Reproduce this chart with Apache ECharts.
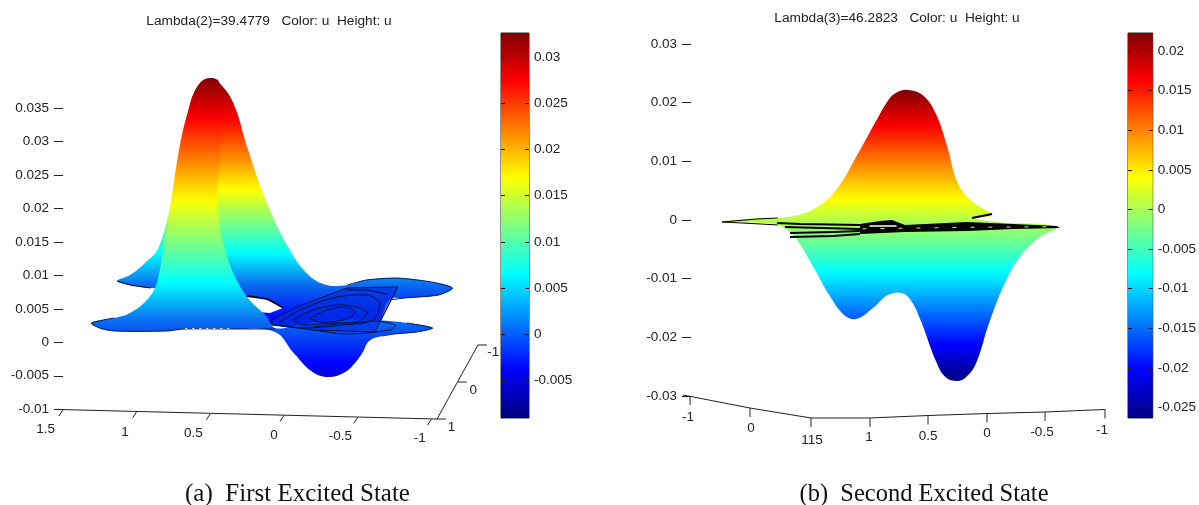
<!DOCTYPE html>
<html>
<head>
<meta charset="utf-8">
<title>Excited states</title>
<script src="https://cdn.jsdelivr.net/npm/echarts@6/dist/echarts.min.js"></script>
<style>
html, body { margin: 0; padding: 0; background: #fff; }
#chart { width: 1199px; height: 505px; }
</style>
</head>
<body>
<div id="chart"></div>
<script>
// panel (a): [projected x, u]
const backSurfaceA = [[1.126,.00916],[1.038,.01006],[.936,.01186],[.841,.01425],[.739,.02277],[.638,.03473],[.57,.03847],[.492,.03951],[.427,.03877],[.332,.03578],[.231,.02875],[.102,.02083],[-.054,.0138],[-.183,.01006],[-.305,.00857],[-.448,.00857],[-.577,.00931],[-.787,.00961],[-1.024,.00901],[-1.167,.00812],[-1.072,.00707],[-.841,.00662],[-.733,.00632],[-.638,.00259],[.081,.00259],[.298,.00483],[.57,.00782],[.895,.00812],[1.038,.00857]];
const frontSurfaceA = [[1.303,.00289],[1.146,.00363],[1.038,.00438],[.923,.00632],[.855,.00887],[.794,.01634],[.753,.02172],[.699,.0292],[.638,.03473],[.57,.03847],[.492,.03951],[.427,.03877],[.421,.02875],[.441,.02127],[.387,.0138],[.258,.00737],[.102,.00378],[.047,.00214],[-.109,.00259],[-.38,.00333],[-.631,.00333],[-.855,.00289],[-1.031,.00214],[-.923,.00154],[-.767,.00124],[-.685,.00094],[-.597,.00019],[-.55,-.0016],[-.482,-.00354],[-.421,-.00459],[-.319,-.00519],[-.21,-.00444],[-.081,-.0016],[.047,.00154],[.312,.00199],[.672,.00199],[.78,.00169],[1.146,.00169],[1.248,.00214]];
const holeA = [[.251,.00677],[.115,.00632],[.007,.00513],[.095,.00438],[.183,.00453]];
const contourBoxA = [[.081,.00333],[-.088,.00528],[-.427,.00812],[-.773,.00827],[-.617,.00154],[-.197,.00184],[.081,.00259],[.081,.00333]];
const contourOuterA = [[.027,.00308],[-.109,.00483],[-.332,.00662],[-.563,.00707],[-.651,.00588],[-.604,.00333],[-.4,.00259],[-.156,.00214],[.027,.00259],[.027,.00308]];
const contourMiddleA = [[-.061,.00333],[-.197,.00483],[-.36,.00558],[-.495,.00528],[-.563,.00438],[-.495,.00303],[-.312,.00289],[-.129,.00259],[-.061,.00333]];
const contourInnerA = [[-.176,.00363],[-.292,.00483],[-.427,.00528],[-.482,.00438],[-.4,.00333],[-.244,.00303],[-.176,.00363]];
const contourBladeA = [[-.197,.00229],[-.604,.00318],[-.753,.00259],[-.719,.00184],[-.427,.00124],[-.197,.00184]];
const contourTopA = [[-.427,.00782],[-.563,.00782],[-.699,.00722]];
const edgeFrontA = [[1.146,.00363],[1.303,.00289],[1.248,.00214],[1.146,.00169],[.78,.00169],[.672,.00199],[.312,.00199],[.047,.00199]];
const edgeBackLeftA = [[1.126,.00916],[1.038,.00857],[.895,.00812]];
const edgeHoleA = [[.251,.00692],[.115,.00647],[.007,.00513]];
const edgeRightBackA = [[-.448,.00857],[-.577,.00931],[-.787,.00961],[-1.024,.00901],[-1.167,.00812],[-1.072,.00707],[-.841,.00662],[-.733,.00632]];
const edgeRightFrontA = [[-.855,.00289],[-1.031,.00214],[-.923,.00154],[-.767,.00124],[-.685,.00094]];
const specksFrontA = [[.66,.00206],[.36,.00206]];
const axisLineA = [[1.554,-.01003],[-1.038,-.01147],[-1.316,-.0004]];
const xTicksA = [[1.5,-.01012],[1,-.01039],[.5,-.01067],[0,-.01094],[-.5,-.01122],[-1,-.0115]];
const depthTicksA = [[-1.316,-.0004],[-1.18,-.00594],[-1.038,-.01147]];
const axisLabelsA = [[1.615,-.01296,'1.5'],[1.072,-.01341,'1'],[.604,-.01356,'0.5'],[.054,-.01386,'0'],[-.4,-.01401,'-0.5'],[-.943,-.01431,'-1'],[-1.16,-.01266,'1'],[-1.309,-.00712,'0'],[-1.445,-.00145,'-1']];
const yTicksA = [-.01,-.005,0,.005,.01,.015,.02,.025,.03,.035];
const barTicksA = [-.005,0,.005,.01,.015,.02,.025,.03];
const barRangeA = [-.00907,.0326];

// panel (b)
const surfaceB = [[2.247,-.00034],[1.949,.00034],[1.77,.00034],[1.591,.00085],[1.43,.00221],[1.268,.00511],[1.064,.01193],[.936,.01652],[.808,.02078],[.74,.02181],[.655,.02215],[.528,.0213],[.417,.01823],[.315,.01244],[.23,.00647],[.119,.00341],[-.06,.00085],[.085,.00034],[-.111,-.00034],[-.621,-.00119],[-.468,-.00307],[-.306,-.0063],[-.179,-.01073],[-.043,-.01755],[.068,-.02436],[.153,-.02675],[.23,-.02743],[.332,-.02675],[.417,-.02385],[.545,-.01704],[.63,-.01363],[.706,-.01244],[.825,-.01278],[.953,-.01499],[1.098,-.01687],[1.2,-.01619],[1.328,-.01278],[1.464,-.00801],[1.591,-.00375],[1.659,-.00221],[1.77,-.00085],[1.915,-.00051]];
const bandB = [[1.081,-.00068],[.911,-.00017],[.808,0],[.698,-.00085],[.17,-.00034],[-.221,-.00068],[-.596,-.00102],[-.621,-.00136],[-.221,-.00153],[.17,-.00187],[.698,-.00204],[1.081,-.00239]];
const bandLeftTopB = [[1.787,-.00051],[1.591,-.00068],[1.081,-.00085]];
const bandLeftMidB = [[1.72,-.00119],[1.4,-.00136],[1.081,-.00153]];
const bandLeftLowB = [[1.676,-.00221],[1.311,-.00204],[1.081,-.00187]];
const bandLeftBottomB = [[1.676,-.0029],[1.311,-.00273],[1.081,-.00239]];
const bladeTopB = [[2.247,-.00034],[1.949,.00017],[1.77,.00034]];
const bladeLowB = [[2.247,-.00034],[1.915,-.00068],[1.77,-.00085]];
const stubB = [[.128,.00034],[-.043,.00102]];
const specksB = [[1.06,-.0015],[.2,-.00125],[-.55,-.00115]];
const slitB = [[1.0,-.00102],[.77,-.00102]];
const axisLineB = [[2.587,-.02981],[2.017,-.03203],[1.498,-.03373],[.996,-.03373],[.502,-.03331],[0,-.03297],[-.494,-.03271],[-1.004,-.03228]];
const xTicksB = [[2.527,-.03],[2.017,-.03203],[1.498,-.03373],[.996,-.03373],[.502,-.03331],[0,-.03297],[-.494,-.03271],[-1.004,-.03228]];
const axisLabelsB = [[2.545,-.03356,'-1'],[2.008,-.03544,'0'],[1.489,-.03748,'115'],[1.004,-.03697,'1'],[.502,-.0368,'0.5'],[0,-.03629,'0'],[-.468,-.03612,'-0.5'],[-.979,-.03578,'-1']];
const yTicksB = [-.03,-.02,-.01,0,.01,.02,.03];
const barTicksB = [-.025,-.02,-.015,-.01,-.005,0,.005,.01,.015,.02];
const barRangeB = [-.02633,.02229];

const titles = ['Lambda(2)=39.4779   Color: u  Height: u', 'Lambda(3)=46.2823   Color: u  Height: u'];
const captions = ['(a)  First Excited State', '(b)  Second Excited State'];

const jetStops = [
    { offset: 0, color: '#800000' },
    { offset: 0.125, color: '#ff0000' },
    { offset: 0.375, color: '#ffff00' },
    { offset: 0.625, color: '#00ffff' },
    { offset: 0.875, color: '#0000ff' },
    { offset: 1, color: '#000080' }
];
// the two sheets of panel (a) share their reds but part ways lower down
const frontStopsA = [
    { offset: 0, color: '#800000' },
    { offset: 0.125, color: '#ff0000' },
    { offset: 0.375, color: '#ffff00' },
    { offset: 0.625, color: '#00ffff' },
    { offset: 0.74, color: '#0a70f0' },
    { offset: 0.875, color: '#0000ff' },
    { offset: 1, color: '#000080' }
];
const backStopsA = [
    { offset: 0, color: '#800000' },
    { offset: 0.149, color: '#ff0000' },
    { offset: 0.406, color: '#ffff00' },
    { offset: 0.634, color: '#00ffff' },
    { offset: 0.75, color: '#0a6cf0' },
    { offset: 0.877, color: '#0000ff' },
    { offset: 1, color: '#000080' }
];
const axisColor = '#222';
const contourColor = '#050f40';
const sansFont = '"Liberation Sans", Arial, sans-serif';
const tickFontSize = 13.5;

// surface polygon, coloured by height in screen space
function surfaceSeries(points, xIdx, yIdx, topU, bottomU, stops, z) {
    return {
        type: 'custom', xAxisIndex: xIdx, yAxisIndex: yIdx, z: z, data: points, encode: { x: 0, y: 1 },
        renderItem(params, api) {
            if (params.dataIndex !== 0) return null;
            const y0 = api.coord([0, topU])[1];
            const y1 = api.coord([0, bottomU])[1];
            return {
                type: 'polygon',
                shape: { points: points.map(p => api.coord(p)), smooth: 0.4 },
                style: { fill: new echarts.graphic.LinearGradient(0, y0, 0, y1, stops, true) }
            };
        }
    };
}

function fillSeries(points, xIdx, yIdx, fill, z) {
    return {
        type: 'custom', xAxisIndex: xIdx, yAxisIndex: yIdx, z: z, data: points, encode: { x: 0, y: 1 },
        renderItem(params, api) {
            if (params.dataIndex !== 0) return null;
            return { type: 'polygon', shape: { points: points.map(p => api.coord(p)) }, style: { fill: fill } };
        }
    };
}

function pathSeries(points, xIdx, yIdx, color, width, z, smooth, dash) {
    return {
        type: 'custom', xAxisIndex: xIdx, yAxisIndex: yIdx, z: z, data: points, encode: { x: 0, y: 1 },
        renderItem(params, api) {
            if (params.dataIndex !== 0) return null;
            return {
                type: 'polyline',
                shape: { points: points.map(p => api.coord(p)), smooth: smooth || 0 },
                style: { stroke: color, lineWidth: width, fill: 'none', lineDash: dash || null }
            };
        }
    };
}

// short marks hanging off a projected axis
function tickSeries(ticks, idx, dx, du, z) {
    return {
        type: 'custom', xAxisIndex: idx, yAxisIndex: idx, z: z, data: ticks, encode: { x: 0, y: 1 },
        renderItem(params, api) {
            const a = api.coord([api.value(0), api.value(1)]);
            const b = api.coord([api.value(0) + dx, api.value(1) + du]);
            return {
                type: 'line',
                shape: { x1: a[0], y1: a[1], x2: b[0], y2: b[1] },
                style: { stroke: axisColor, lineWidth: 1 }
            };
        }
    };
}

function labelSeries(labels, xIdx, yIdx, z) {
    return {
        type: 'custom', xAxisIndex: xIdx, yAxisIndex: yIdx, z: z, data: labels, encode: { x: 0, y: 1 },
        renderItem(params, api) {
            const p = api.coord([api.value(0), api.value(1)]);
            return {
                type: 'text',
                style: {
                    x: p[0], y: p[1], text: labels[params.dataIndex][2],
                    align: 'center', verticalAlign: 'middle',
                    font: tickFontSize + 'px ' + sansFont, fill: axisColor
                }
            };
        }
    };
}

function barSeries(range, idx) {
    return {
        type: 'custom', xAxisIndex: idx, yAxisIndex: idx, z: 6, data: [[0, range[1]], [1, range[0]]], encode: { x: 0, y: 1 },
        renderItem(params, api) {
            if (params.dataIndex !== 0) return null;
            const a = api.coord([0, range[1]]);
            const b = api.coord([1, range[0]]);
            return {
                type: 'rect',
                shape: { x: a[0], y: a[1], width: b[0] - a[0], height: b[1] - a[1] },
                style: { fill: new echarts.graphic.LinearGradient(0, a[1], 0, b[1], jetStops, true) }
            };
        }
    };
}

function panelX(min, max, gridIndex, position) {
    return { type: 'value', gridIndex: gridIndex, min: min, max: max, inverse: true, show: false, position: position };
}

function panelY(min, max, ticks, offset, gridIndex) {
    return {
        type: 'value', gridIndex: gridIndex, min: min, max: max, offset: offset, position: 'left',
        splitLine: { show: false },
        axisLine: { show: false, onZero: false },
        axisTick: { show: true, length: 9, customValues: ticks, lineStyle: { color: axisColor } },
        axisLabel: {
            margin: 14, customValues: ticks, fontFamily: sansFont, fontSize: tickFontSize, color: axisColor,
            padding: [0, 0, 4, 0],
            formatter: v => String(+v.toFixed(3))
        }
    };
}

function barY(range, ticks, position, gridIndex, showLabels) {
    return {
        type: 'value', gridIndex: gridIndex, min: range[0], max: range[1], position: position, z: 8,
        splitLine: { show: false },
        axisLine: { show: false, onZero: false },
        axisTick: { show: true, inside: true, length: 4, customValues: ticks, lineStyle: { color: '#331111' } },
        axisLabel: {
            show: showLabels, margin: 5, customValues: ticks, fontFamily: sansFont, fontSize: tickFontSize, color: axisColor,
            padding: [0, 0, 3, 0],
            formatter: v => String(+v.toFixed(3))
        }
    };
}

const option = {
    animation: false,
    backgroundColor: '#fff',
    title: [
        { text: titles[0], left: 264, top: 9, textAlign: 'center', textStyle: { fontFamily: sansFont, fontSize: 13.7, fontWeight: 'normal', color: axisColor } },
        { text: titles[1], left: 892, top: 6, textAlign: 'center', textStyle: { fontFamily: sansFont, fontSize: 13.7, fontWeight: 'normal', color: axisColor } },
        { text: captions[0], left: 292.5, top: 477, textAlign: 'center', textStyle: { fontFamily: '"Liberation Serif", serif', fontSize: 25, fontWeight: 'normal', color: '#111' } },
        { text: captions[1], left: 919, top: 477, textAlign: 'center', textStyle: { fontFamily: '"Liberation Serif", serif', fontSize: 24.5, fontWeight: 'normal', color: '#111' } }
    ],
    grid: [
        { left: 33.42, top: 74.7, width: 471.68, height: 401.4 },
        { left: 501, top: 33, width: 28, height: 385, show: true, borderColor: '#222', borderWidth: 1 },
        { left: 634.5, top: 14.55, width: 499.4, height: 440.25 },
        { left: 1128, top: 33, width: 29, height: 385, show: true, borderColor: '#222', borderWidth: 1 }
    ],
    xAxis: [
        panelX(-1.5, 1.7, 0, 'bottom'),
        { type: 'value', gridIndex: 1, min: 0, max: 1, show: false },
        panelX(-1.25, 3, 2, 'bottom'),
        { type: 'value', gridIndex: 3, min: 0, max: 1, show: false },
        panelX(-1.5262, 1.6982, 0, 'top'),
        panelX(-1.285, 2.998, 2, 'top')
    ],
    yAxis: [
        panelY(-.02, .04, yTicksA, -29.58, 0),
        barY(barRangeA, barTicksA, 'right', 1, true),
        panelY(-.04, .035, yTicksB, -56.5, 2),
        barY(barRangeB, barTicksB, 'right', 3, true),
        barY(barRangeA, barTicksA, 'left', 1, false),
        barY(barRangeB, barTicksB, 'left', 3, false)
    ],
    series: [
        surfaceSeries(backSurfaceA, 4, 0, .03951, -.00175, backStopsA, 2),
        fillSeries(holeA, 0, 0, '#fff', 2.1),
        pathSeries(edgeHoleA, 0, 0, '#000', 1.5, 2.2, 0.2),
        pathSeries(edgeBackLeftA, 4, 0, '#000', 1, 2.2, 0.2),
        pathSeries(edgeRightBackA, 4, 0, '#001a66', 1, 2.2, 0.2),
        surfaceSeries(frontSurfaceA, 4, 0, .03951, -.00937, frontStopsA, 3),
        pathSeries(edgeFrontA, 4, 0, '#001a55', 1, 3.1, 0.2),
        pathSeries(edgeRightFrontA, 4, 0, '#001a66', 1, 3.1, 0.2),
        pathSeries(specksFrontA, 4, 0, '#fff', 1, 3.15, 0, [2, 5]),
        fillSeries(contourBoxA, 0, 0, 'rgba(0,50,225,0.75)', 3.2),
        pathSeries(contourBoxA, 0, 0, contourColor, 1, 3.3),
        pathSeries(contourOuterA, 0, 0, contourColor, 1, 3.3, 0.3),
        pathSeries(contourMiddleA, 0, 0, contourColor, 1, 3.3, 0.3),
        pathSeries(contourInnerA, 0, 0, contourColor, 1, 3.3, 0.3),
        pathSeries(contourBladeA, 0, 0, contourColor, 1, 3.3, 0.3),
        pathSeries(contourTopA, 0, 0, contourColor, 1, 3.3),
        pathSeries(axisLineA, 0, 0, axisColor, 1, 1),
        tickSeries(xTicksA, 0, .027, -.0009, 1),
        tickSeries(depthTicksA, 0, -.061, 0, 1),
        labelSeries(axisLabelsA, 4, 0, 1),
        barSeries(barRangeA, 1),

        surfaceSeries(surfaceB, 5, 2, .02215, -.02743, jetStops, 2),
        fillSeries(bandB, 2, 2, '#000', 3),
        pathSeries(bandLeftTopB, 2, 2, '#000', 2, 3),
        pathSeries(bandLeftMidB, 2, 2, '#000', 2, 3),
        pathSeries(bandLeftLowB, 2, 2, '#000', 2, 3),
        pathSeries(bandLeftBottomB, 2, 2, '#000', 2, 3),
        pathSeries(specksB, 2, 2, '#c8f070', 1, 3.1, 0, [4, 14]),
        pathSeries(slitB, 2, 2, '#fff', 1.5, 3.1),
        pathSeries(bladeTopB, 5, 2, '#000', 1, 3),
        pathSeries(bladeLowB, 5, 2, '#000', 1, 3),
        pathSeries(stubB, 2, 2, '#000', 2, 3),
        pathSeries(axisLineB, 2, 2, axisColor, 1, 1),
        tickSeries(xTicksB, 2, 0, -.00153, 1),
        labelSeries(axisLabelsB, 2, 2, 1),
        barSeries(barRangeB, 3)
    ]
};

const chart = echarts.init(document.getElementById('chart'), null, { renderer: 'canvas' });
chart.setOption(option);
</script>
</body>
</html>
